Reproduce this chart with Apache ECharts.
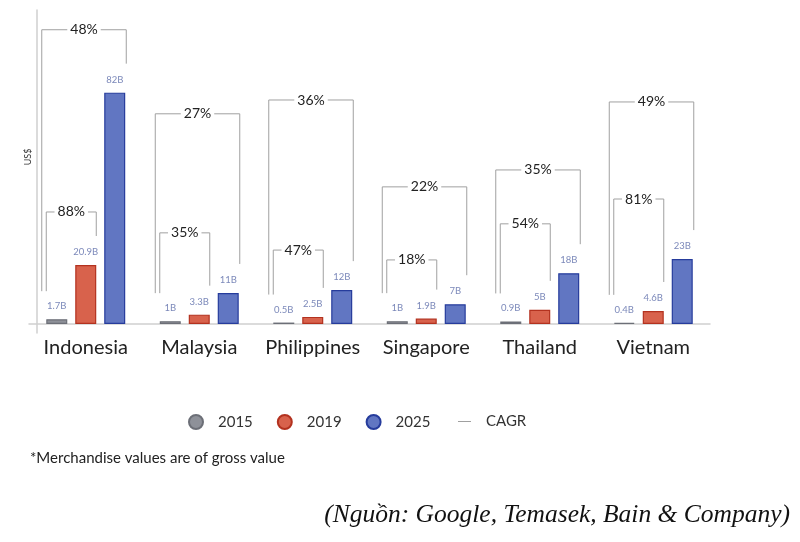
<!DOCTYPE html>
<html>
<head>
<meta charset="utf-8">
<script src="https://cdn.jsdelivr.net/npm/echarts@6/dist/echarts.min.js"></script>
<style>
  html, body { margin: 0; padding: 0; background: #fff; }
  #chart { width: 800px; height: 542px; }
</style>
</head>
<body>
<div id="chart"></div>
<script>
// data (US$ billions)
var categories = ['Indonesia', 'Malaysia', 'Philippines', 'Singapore', 'Thailand', 'Vietnam'];
var v2015 = [1.7, 1, 0.5, 1, 0.9, 0.4];
var v2019 = [20.9, 3.3, 2.5, 1.9, 5, 4.6];
var v2025 = [82, 11, 12, 7, 18, 23];
// CAGR labels: 2015-2025 and 2015-2019
var cagrLong = ['48%', '27%', '36%', '22%', '35%', '49%'];
var cagrShort = ['88%', '35%', '47%', '18%', '54%', '81%'];
// height (in value units) where each CAGR bracket is drawn
var levelLong = [104.3, 74.5, 79.4, 48.6, 54.6, 78.7];
var levelShort = [39.7, 32.3, 26.2, 22.7, 35.5, 44.3];

var myChart = echarts.init(document.getElementById('chart'));

var labelStyle = {
  show: true,
  position: 'top',
  distance: 8,
  fontSize: 9.5,
  fontFamily: 'Lato',
  color: '#7c89ba',
  formatter: function (p) { return p.value + 'B'; }
};

// bracket data: [category index, level, kind] kind 0 = 2015-2025, 1 = 2015-2019
var bracketData = [];
categories.forEach(function (c, i) {
  bracketData.push([i, levelLong[i], 0]);
  bracketData.push([i, levelShort[i], 1]);
});

function renderBracket(params, api) {
  var i = api.value(0);
  var kind = api.value(2);
  var top = api.coord([i, api.value(1)]);
  var cx = top[0];
  var yTop = top[1];
  var xl, xr, yr, text;
  var yl = api.coord([i, v2015[i]])[1] - 28;
  if (kind === 0) {
    xl = cx - 44; xr = cx + 40.5;
    yr = api.coord([i, v2025[i]])[1] - 29;
    text = cagrLong[i];
  } else {
    xl = cx - 39.5; xr = cx + 10.5;
    yr = api.coord([i, v2019[i]])[1] - 29;
    text = cagrShort[i];
  }
  return {
    type: 'group',
    children: [
      {
        type: 'polyline',
        shape: { points: [[xl, yl], [xl, yTop], [xr, yTop], [xr, yr]] },
        style: { stroke: '#a0a0a0', lineWidth: 1, fill: null }
      },
      {
        type: 'text',
        style: {
          text: text,
          x: (xl + xr) / 2,
          y: yTop,
          align: 'center',
          verticalAlign: 'middle',
          font: '14px Lato',
          fill: '#222',
          backgroundColor: '#fff',
          padding: [0, 3]
        }
      }
    ]
  };
}

var legendText = { fontSize: 15, color: '#333', fontFamily: 'Lato' };

var option = {
  backgroundColor: '#fff',
  animation: false,
  grid: { left: 29, width: 681, top: 10, height: 323 },
  legend: [
    {
      left: 183,
      top: 409,
      itemWidth: 34,
      itemHeight: 14,
      itemGap: 24,
      textStyle: legendText,
      data: [
        { name: '2015', icon: 'circle' },
        { name: '2019', icon: 'circle' },
        { name: '2025', icon: 'circle' }
      ]
    },
    {
      left: 442,
      top: 409,
      itemWidth: 34,
      itemHeight: 14,
      textStyle: legendText,
      data: [
        { name: 'CAGR', icon: 'path://M0,0L0,0.01M11,6.5L24,6.5L24,7.5L11,7.5ZM34,14L34,14.01' }
      ]
    }
  ],
  xAxis: {
    type: 'category',
    data: categories,
    axisLine: { lineStyle: { color: '#cfcfcf', width: 1.5 } },
    axisTick: { show: false },
    axisLabel: { interval: 0, fontSize: 20, color: '#222', fontFamily: 'Lato', margin: 5 }
  },
  yAxis: {
    type: 'value',
    min: -3.2,
    max: 111.3,
    offset: -8,
    axisLine: { show: true, lineStyle: { color: '#cfcfcf', width: 1.5 } },
    axisTick: { show: false },
    axisLabel: { show: false },
    splitLine: { show: false }
  },
  graphic: [
    {
      type: 'text', x: 28, y: 157, rotation: Math.PI / 2,
      style: { text: 'US$', font: '9px Lato', fill: '#333', align: 'center', verticalAlign: 'middle' }
    },
    {
      type: 'text', left: 30, top: 451,
      style: { text: '*Merchandise values are of gross value', font: '15px Lato', fill: '#222' }
    },
    {
      type: 'text', right: 10, top: 502,
      style: { text: '(Nguồn: Google, Temasek, Bain & Company)', font: 'italic 25.5px "Liberation Serif"', fill: '#111' }
    }
  ],
  series: [
    {
      name: '2015', type: 'bar', data: v2015, barWidth: 21, barGap: '38%',
      itemStyle: { color: '#8e9199', borderColor: '#6c6f77', borderWidth: 1.2 },
      label: labelStyle
    },
    {
      name: '2019', type: 'bar', data: v2019, barWidth: 21, barGap: '38%',
      itemStyle: { color: '#d8624c', borderColor: '#b3321f', borderWidth: 1.2 },
      label: labelStyle
    },
    {
      name: '2025', type: 'bar', data: v2025, barWidth: 21, barGap: '38%',
      itemStyle: { color: '#6176c2', borderColor: '#263c9c', borderWidth: 1.2 },
      label: labelStyle
    },
    {
      name: 'CAGR', type: 'custom', data: bracketData, clip: false, z: 5,
      itemStyle: { color: '#a0a0a0' },
      encode: { x: 0, y: 1 },
      renderItem: renderBracket
    }
  ]
};

myChart.setOption(option);
</script>
</body>
</html>
